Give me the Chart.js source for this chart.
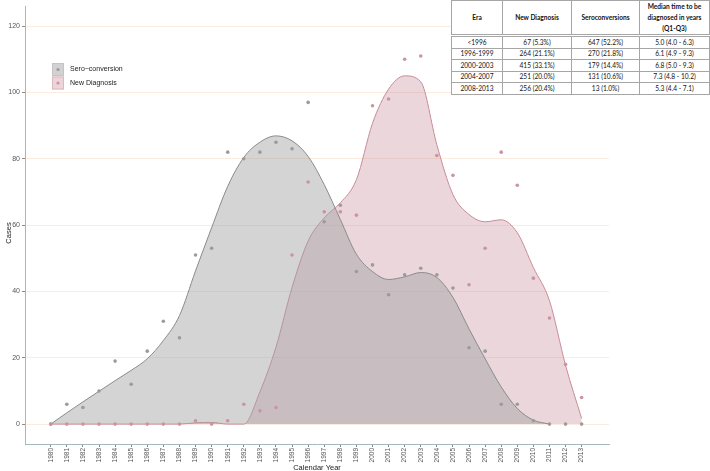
<!DOCTYPE html>
<html>
<head>
<meta charset="utf-8">
<script src="https://cdn.jsdelivr.net/npm/chart.js@4/dist/chart.umd.min.js"></script>
<style>
  body { margin: 0; background: #fff; }
  #wrap { position: relative; width: 710px; height: 471px; }
  #tbl {
    position: absolute; left: 451px; top: 0px;
    border-collapse: collapse; font-family: Lato, sans-serif; font-size: 6.6px; color: #111;
    background: #fff;
  }
  #tbl td, #tbl th { border: 1px solid #a6a6a6; text-align: center; padding: 0 2px; height: 10.5px; line-height: 9px; }
  #tbl th { font-weight: bold; height: 32px; border-bottom: 3px double #a6a6a6; line-height: 11px; }
</style>
</head>
<body>
<div id="wrap">
  <canvas id="myChart" width="710" height="471"></canvas>
  <table id="tbl"></table>
</div>
<script>
const years = [1980, 1981, 1982, 1983, 1984, 1985, 1986, 1987, 1988, 1989, 1990, 1991,
  1992, 1993, 1994, 1995, 1996, 1997, 1998, 1999, 2000, 2001, 2002, 2003,
  2004, 2005, 2006, 2007, 2008, 2009, 2010, 2011, 2012, 2013];

// yearly counts (dots)
const seroCases = [0, 6, 5, 10, 19, 12, 22, 31, 26, 51, 53, 82,
  80, 82, 85, 83, 97, 61, 66, 46, 48, 39, 45, 47,
  45, 41, 23, 22, 6, 6, 1, 0, 0, 0];
const newDiagCases = [0, 0, 0, 0, 0, 0, 0, 0, 0, 1, 0, 1,
  6, 4, 5, 51, 73, 64, 64, 63, 96, 98, 110, 111,
  81, 75, 42, 53, 82, 72, 44, 32, 18, 8];

// smoothed curves
const seroSmooth = [0, 3.4, 6.7, 9.9, 13.1, 16.2, 19.7, 25.2, 32.7, 46.2, 59.2, 71.7,
  80.4, 85, 86.9, 85.4, 80.7, 72.2, 61.7, 51.2, 46, 43.6, 44.4, 45.7,
  44.2, 38.2, 28.7, 19.7, 11.2, 4.7, 1.2, 0];
const newDiagSmooth = [0, 0, 0, 0, 0, 0, 0, 0, 0, 0.4, 0.5, 0,
  0, 9.7, 23.2, 41.2, 55.2, 62.2, 66.7, 73.7, 90.7, 101, 105, 103.2,
  84.2, 69.2, 63.2, 61, 61.6, 57.7, 47.2, 37.2, 17.7, 1.7];

const yTicks = [0, 20, 40, 60, 80, 100, 120];

// table
const tableHead = ["Era", "New Diagnosis", "Seroconversions", "Median time to be<br>diagnosed in years<br>(Q1-Q3)"];
const eras = ["<1996", "1996-1999", "2000-2003", "2004-2007", "2008-2013"];
const eraNewDiag = ["67 (5.3%)", "264 (21.1%)", "415 (33.1%)", "251 (20.0%)", "256 (20.4%)"];
const eraSero = ["647 (52.2%)", "270 (21.8%)", "179 (14.4%)", "131 (10.6%)", "13 (1.0%)"];
const eraMedian = ["5.0 (4.0 - 6.3)", "6.1 (4.9 - 9.3)", "6.8 (5.0 - 9.3)", "7.3 (4.8 - 10.2)", "5.3 (4.4 - 7.1)"];

const widths = [51, 69, 68, 70];
let html = "<tr>" + tableHead.map((h, i) => `<th style="width:${widths[i] - 5}px">${h}</th>`).join("") + "</tr>";
eras.forEach((e, i) => {
  html += `<tr><td>${e.replace("<", "&lt;")}</td><td>${eraNewDiag[i]}</td><td>${eraSero[i]}</td><td>${eraMedian[i]}</td></tr>`;
});
document.getElementById("tbl").innerHTML = html;

const grayFill = "rgba(160,160,160,0.45)";
const pinkFill = "rgba(190,130,145,0.33)";

const legendPlugin = {
  id: "boxLegend",
  afterDraw(chart) {
    const ctx = chart.ctx;
    const items = [
      { label: "Sero\u2212conversion", fill: "#d2d2d2", stroke: "#c4c4c4", dot: "#9b9b9b" },
      { label: "New Diagnosis", fill: "#ecd5da", stroke: "#dcb8c0", dot: "#cc93a0" }
    ];
    ctx.save();
    items.forEach((it, i) => {
      const y = 63 + i * 13.5;
      ctx.fillStyle = it.fill;
      ctx.fillRect(52, y, 12, 13);
      ctx.strokeStyle = it.stroke;
      ctx.lineWidth = 1;
      ctx.strokeRect(52.5, y + 0.5, 11, 12);
      ctx.fillStyle = it.dot;
      ctx.beginPath();
      ctx.arc(58, y + 6.5, 1.6, 0, Math.PI * 2);
      ctx.fill();
      ctx.fillStyle = "#222";
      ctx.font = "7px 'Liberation Sans', sans-serif";
      ctx.textBaseline = "middle";
      ctx.fillText(it.label, 70, y + 6.5);
    });

    // axis titles
    ctx.fillStyle = "#222";
    ctx.font = "7.5px 'Liberation Sans', sans-serif";
    ctx.textAlign = "center";
    ctx.textBaseline = "middle";
    ctx.fillText("Calendar Year", 317, 467.5);
    ctx.translate(9, 233);
    ctx.rotate(-Math.PI / 2);
    ctx.fillText("Cases", 0, 0);
    ctx.restore();
  }
};

const datasets = [
  {
    type: "line", label: "New Diagnosis curve",
    data: years.map((x, i) => ({ x, y: newDiagSmooth[i] })),
    borderColor: "#c88c99", borderWidth: 1, backgroundColor: pinkFill,
    fill: "origin", pointRadius: 0, cubicInterpolationMode: "monotone", order: 4
  },
  {
    type: "line", label: "Sero-conversion curve",
    data: seroSmooth.map((y, i) => ({ x: years[i], y })),
    borderColor: "#8a8a8a", borderWidth: 1, backgroundColor: grayFill,
    fill: "origin", pointRadius: 0, cubicInterpolationMode: "monotone", order: 3
  },
  {
    type: "scatter", label: "Sero-conversion",
    data: years.map((x, i) => ({ x, y: seroCases[i] })),
    backgroundColor: "#9b9b9b", borderWidth: 0, pointRadius: 1.8, order: 2
  },
  {
    type: "scatter", label: "New Diagnosis",
    data: years.map((x, i) => ({ x, y: newDiagCases[i] })),
    backgroundColor: "#cc93a0", borderWidth: 0, pointRadius: 1.8, order: 1
  }
];

const myChart = new Chart(document.getElementById("myChart"), {
  type: "line",
  data: { datasets },
  plugins: [legendPlugin],
  options: {
    responsive: false,
    animation: false,
    layout: { padding: { top: 5, right: 101, left: 0, bottom: 0 } },
    plugins: { legend: { display: false }, tooltip: { enabled: false } },
    scales: {
      x: {
        type: "linear", min: 1978.4, max: 2014.7,
        afterBuildTicks: axis => { axis.ticks = years.map(v => ({ value: v })); },
        afterFit: axis => { axis.height = 27; },
        ticks: {
          minRotation: 90, maxRotation: 90, autoSkip: false, padding: 1,
          color: "#555", font: { size: 6.5, family: "Liberation Sans" },
          callback: v => String(v)
        },
        grid: { drawOnChartArea: false, tickLength: 3, tickColor: "#8a8a8a" },
        border: { color: "#a7b9b9", width: 1 }
      },
      y: {
        min: -6, max: 126,
        afterBuildTicks: axis => { axis.ticks = yTicks.map(v => ({ value: v })); },
        afterFit: axis => { axis.width = 25; },
        ticks: { color: "#555", padding: 2, font: { size: 7, family: "Liberation Sans" } },
        grid: { color: "#fcecdf", tickLength: 3, tickColor: "#8a8a8a", lineWidth: 1 },
        border: { color: "#a7b9b9", width: 1 }
      }
    }
  }
});
</script>
</body>
</html>
